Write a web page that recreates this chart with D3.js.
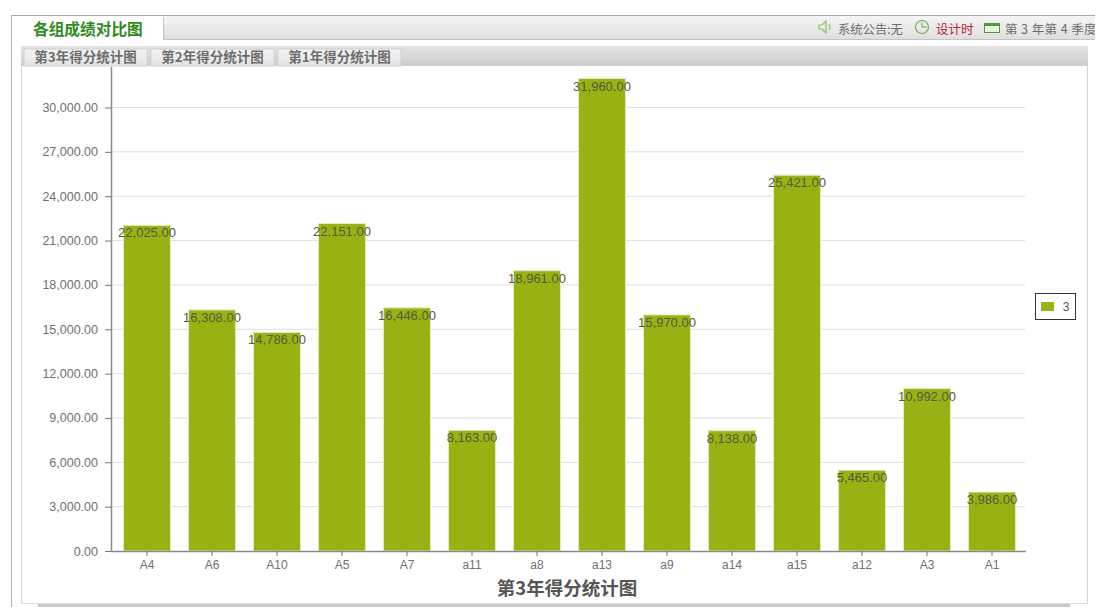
<!DOCTYPE html>
<html>
<head>
<meta charset="utf-8">
<script src="https://cdn.jsdelivr.net/npm/d3@7"></script>
<style>
html, body { margin: 0; padding: 0; background: #fff; overflow: hidden; }
text { font-family: "Liberation Sans", Arial, sans-serif; }
.cjk { font-family: "Noto Sans CJK SC", sans-serif; }
</style>
</head>
<body>
<div id="chart"></div>
<script>
// data
var groups = ["A4", "A6", "A10", "A5", "A7", "a11", "a8", "a13", "a9", "a14", "a15", "a12", "A3", "A1"];
var scores = [22025, 16308, 14786, 22151, 16446, 8163, 18961, 31960, 15970, 8138, 25421, 5465, 10992, 3986];
var y_ticks = [0, 3000, 6000, 9000, 12000, 15000, 18000, 21000, 24000, 27000, 30000];
var tab_names = ["第3年得分统计图", "第2年得分统计图", "第1年得分统计图"];
var series_name = "3";
var chart_title = "第3年得分统计图";

var width = 1099, height = 615;
var frame_right = 1095;
var axis_left = 111;
var bar_color = "#9ab114";
var fmt = d3.format(",.2f");

var svg = d3.select("#chart").append("svg")
  .attr("width", width)
  .attr("height", height);

var defs = svg.append("defs");
function add_grad(id, top, bottom){
  var g = defs.append("linearGradient").attr("id", id)
    .attr("x1", "0%").attr("x2", "0%").attr("y1", "0%").attr("y2", "100%");
  g.append("stop").attr("offset", "0%").attr("stop-color", top);
  g.append("stop").attr("offset", "100%").attr("stop-color", bottom);
}
add_grad("header_grad", "#f6f6f6", "#dedede");
add_grad("strip_grad", "#e4e4e4", "#cdcdcd");
add_grad("tab_grad", "#f4f4f4", "#e2e2e2");
defs.append("clipPath").attr("id", "frame_clip").append("rect")
  .attr("x", 0).attr("y", 0).attr("width", frame_right).attr("height", height);

//outer frame and header
svg.append("rect").attr("x", 11).attr("y", 15).attr("width", frame_right - 11).attr("height", 25).style("fill", "url(#header_grad)");
svg.append("line").attr("x1", 11).attr("x2", frame_right).attr("y1", 15.5).attr("y2", 15.5).style("stroke", "#a8a8a8");
svg.append("line").attr("x1", 11.5).attr("x2", 11.5).attr("y1", 15).attr("y2", 607).style("stroke", "#b4b4b4");
svg.append("line").attr("x1", 163).attr("x2", frame_right).attr("y1", 39.5).attr("y2", 39.5).style("stroke", "#c4c4c4");
svg.append("rect").attr("x", 12).attr("y", 16).attr("width", 151).attr("height", 24).style("fill", "#fff");
svg.append("line").attr("x1", 163.5).attr("x2", 163.5).attr("y1", 17).attr("y2", 40).style("stroke", "#c4c4c4");
svg.append("text").attr("class", "cjk").attr("x", 33).attr("y", 35)
  .style("font-size", "15.7px").style("font-weight", "bold").style("fill", "#2f8a22")
  .text("各组成绩对比图");

//status bar on the right of the header
var status_g = svg.append("g").attr("clip-path", "url(#frame_clip)");
status_g.append("path").attr("d", "M819 25h3l4-4v12l-4-4h-3z M829 24q2 3 0 6")
  .style("fill", "none").style("stroke", "#8fc06a").style("stroke-width", 1.2);
status_g.append("text").attr("class", "cjk").attr("x", 838).attr("y", 34)
  .style("font-size", "12.3px").style("fill", "#6e6e6e").text("系统公告:无");
status_g.append("circle").attr("cx", 922).attr("cy", 27).attr("r", 6.5)
  .style("fill", "none").style("stroke", "#6fae45").style("stroke-width", 1.1);
status_g.append("path").attr("d", "M922 22v5h5").style("fill", "none").style("stroke", "#6fae45");
status_g.append("text").attr("class", "cjk").attr("x", 936).attr("y", 34)
  .style("font-size", "12.5px").style("fill", "#b5242a").text("设计时");
status_g.append("rect").attr("x", 984.5).attr("y", 23.5).attr("width", 15).attr("height", 9)
  .style("fill", "#e8f3dc").style("stroke", "#4d9a3a");
status_g.append("rect").attr("x", 985).attr("y", 24).attr("width", 14).attr("height", 2).style("fill", "#4d9a3a");
status_g.append("text").attr("class", "cjk").attr("x", 1005).attr("y", 34)
  .style("font-size", "12.5px").style("letter-spacing", "0.4px").style("fill", "#6e6e6e").text("第 3 年第 4 季度");

//tab strip
svg.append("rect").attr("x", 21).attr("y", 46).attr("width", 1067).attr("height", 20).style("fill", "url(#strip_grad)");
var tab_x = d3.scaleBand().domain(tab_names).range([24, 401]).paddingInner(0.03);
svg.selectAll(".tab").data(tab_names).enter().append("rect")
  .attr("class", "tab")
  .attr("x", function(d){ return tab_x(d); })
  .attr("y", 49)
  .attr("width", tab_x.bandwidth())
  .attr("height", 17)
  .style("fill", "url(#tab_grad)")
  .style("stroke", "#d0d0d0");
svg.selectAll(".tab_label").data(tab_names).enter().append("text")
  .attr("class", "tab_label cjk")
  .attr("x", function(d){ return tab_x(d) + tab_x.bandwidth() / 2; })
  .attr("y", 62)
  .attr("text-anchor", "middle")
  .style("font-size", "13.5px").style("font-weight", "bold").style("fill", "#6e6e6e")
  .text(function(d){ return d; });

//panel borders and bottom scroll bar
svg.append("line").attr("x1", 21.5).attr("x2", 21.5).attr("y1", 66).attr("y2", 604).style("stroke", "#d2d2d2");
svg.append("line").attr("x1", 1087.5).attr("x2", 1087.5).attr("y1", 66).attr("y2", 604).style("stroke", "#d2d2d2");
svg.append("rect").attr("x", 21).attr("y", 603).attr("width", 1067).attr("height", 1).style("fill", "#dedede");
svg.append("rect").attr("x", 38).attr("y", 604).attr("width", 1032).attr("height", 3).style("fill", "#c8c8c8");

//scales and axes
var x = d3.scaleBand().domain(groups).range([114.5, 1024.5]).paddingInner(0.278).paddingOuter(0.139);
var y = d3.scaleLinear().domain([0, 30000]).range([551, 107.5]);

//grid
svg.append("g").selectAll("line").data(y_ticks.slice(1)).enter().append("line")
  .attr("x1", axis_left)
  .attr("x2", 1025)
  .attr("y1", function(d){ return y(d); })
  .attr("y2", function(d){ return y(d); })
  .style("stroke", "#dedede");

//bars, the pale stroke stands in for the soft edge of the original
svg.append("g").selectAll("rect").data(scores).enter().append("rect")
  .attr("x", function(d, i){ return x(groups[i]); })
  .attr("y", function(d){ return y(d); })
  .attr("width", x.bandwidth())
  .attr("height", function(d){ return y(0) - y(d); })
  .style("fill", bar_color)
  .style("stroke", "#e6ebbd")
  .style("stroke-width", 1);

var y_axis = d3.axisLeft(y).tickValues(y_ticks).tickFormat(fmt).tickSize(6).tickPadding(7);
var y_g = svg.append("g").attr("transform", "translate(" + axis_left + ",0)").call(y_axis);
y_g.select(".domain").attr("d", "M0.5,67V551").style("stroke", "#8a8a8a").style("stroke-width", 1.5);
y_g.selectAll("line").style("stroke", "#777");
y_g.selectAll("text").style("font-size", "12.5px").style("fill", "#707070").style("font-family", "Liberation Sans");

var x_axis = d3.axisBottom(x).tickSize(5).tickPadding(4);
var x_g = svg.append("g").attr("transform", "translate(0,551)").call(x_axis);
x_g.select(".domain").attr("d", "M" + axis_left + ",0.5H1026").style("stroke", "#8a8a8a").style("stroke-width", 1.5);
x_g.selectAll("line").style("stroke", "#777");
x_g.selectAll("text").style("font-size", "12px").style("fill", "#707070").style("font-family", "Liberation Sans");

//value labels, just under the bar top
svg.append("g").selectAll("text").data(scores).enter().append("text")
  .attr("x", function(d, i){ return x(groups[i]) + x.bandwidth() / 2; })
  .attr("y", function(d){ return y(d) + 12; })
  .attr("text-anchor", "middle")
  .style("font-size", "13px")
  .style("fill", "#555a40")
  .text(function(d){ return fmt(d); });

//chart title
svg.append("text").attr("class", "cjk").attr("x", 567).attr("y", 595)
  .attr("text-anchor", "middle")
  .style("font-size", "18.5px").style("font-weight", "bold").style("fill", "#555")
  .text(chart_title);

//legend
svg.append("rect").attr("x", 1035.5).attr("y", 293.5).attr("width", 40).attr("height", 26)
  .style("fill", "#fff").style("stroke", "#333");
svg.append("rect").attr("x", 1041).attr("y", 302).attr("width", 13).attr("height", 9).style("fill", bar_color);
svg.append("text").attr("x", 1066).attr("y", 311).attr("text-anchor", "middle")
  .style("font-size", "12px").style("fill", "#555").text(series_name);
</script>
</body>
</html>
